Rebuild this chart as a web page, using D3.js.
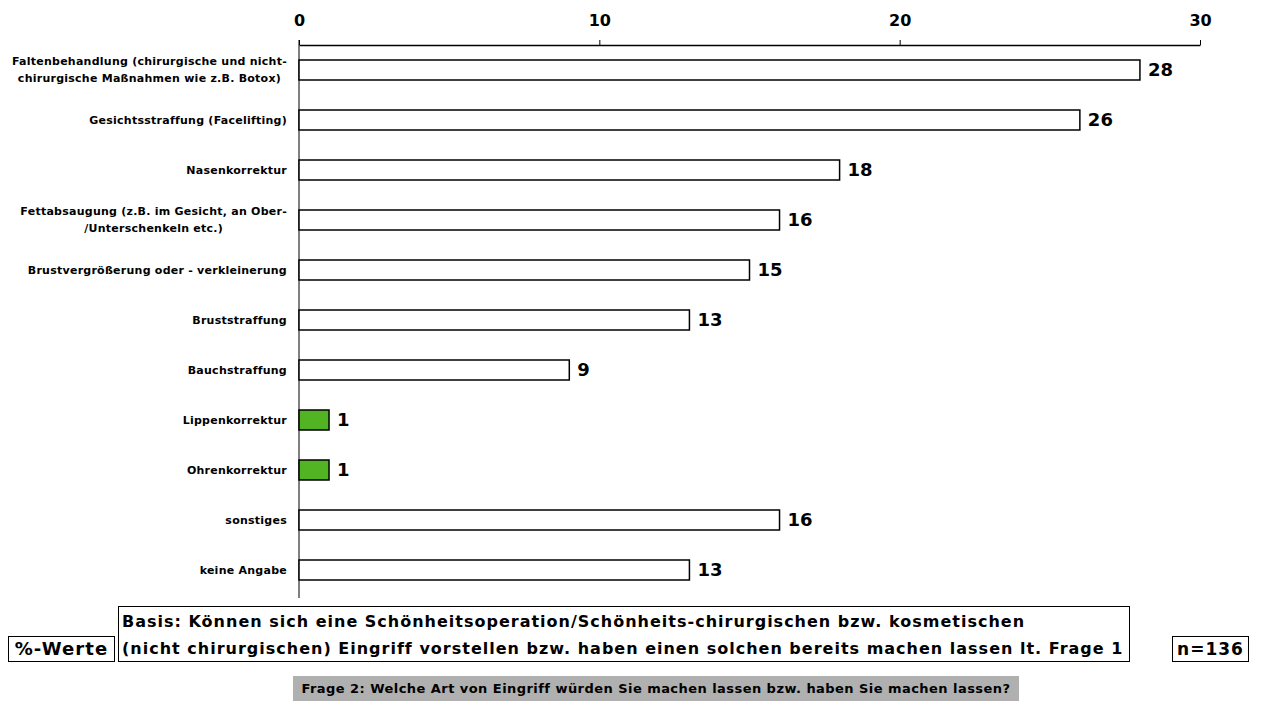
<!DOCTYPE html>
<html>
<head>
<meta charset="utf-8">
<script src="https://cdn.jsdelivr.net/npm/d3@7"></script>
<style>
  body { margin: 0; background: #fff; }
  text { font-family: "DejaVu Sans", Verdana, sans-serif; font-weight: bold; fill: #000; }
</style>
</head>
<body>
<div id="chart"></div>
<script>
// data
const categories = [
  ["Faltenbehandlung (chirurgische und nicht-", "chirurgische Maßnahmen wie z.B. Botox)"],
  ["Gesichtsstraffung (Facelifting)"],
  ["Nasenkorrektur"],
  ["Fettabsaugung (z.B. im Gesicht, an Ober-", "/Unterschenkeln etc.)"],
  ["Brustvergrößerung oder - verkleinerung"],
  ["Bruststraffung"],
  ["Bauchstraffung"],
  ["Lippenkorrektur"],
  ["Ohrenkorrektur"],
  ["sonstiges"],
  ["keine Angabe"]
];
const values = [28, 26, 18, 16, 15, 13, 9, 1, 1, 16, 13];
const highlighted = [false, false, false, false, false, false, false, true, true, false, false];
const xTicks = [0, 10, 20, 30];
const basisLines = [
  "Basis: Können sich eine Schönheitsoperation/Schönheits-chirurgischen bzw. kosmetischen",
  "(nicht chirurgischen) Eingriff vorstellen bzw. haben einen solchen bereits machen lassen lt. Frage 1"
];
const unitLabel = "%-Werte";
const sampleLabel = "n=136";
const questionText = "Frage 2: Welche Art von Eingriff würden Sie machen lassen bzw. haben Sie machen lassen?";

const W = 1261, H = 707;
const svg = d3.select("#chart").append("svg").attr("width", W).attr("height", H);

// === Scales ===
const x = d3.scaleLinear().domain([0, 30]).range([299, 1200]);
const y = d3.scaleBand().domain(d3.range(categories.length)).range([45, 595]).paddingInner(0.6).paddingOuter(0.3);

// === Axes ===
const xAxis = svg.append("g")
  .attr("transform", "translate(0,45)")
  .call(d3.axisTop(x).tickValues(xTicks).tickSize(5).tickPadding(14).tickSizeOuter(0));
xAxis.select(".domain").attr("stroke", "#000").attr("stroke-width", 1.5);
xAxis.selectAll(".tick line").attr("stroke", "#000");
xAxis.selectAll(".tick text").style("font-size", "16px").attr("font-family", null);

svg.append("line")
  .attr("x1", x(0)).attr("x2", x(0))
  .attr("y1", 40).attr("y2", 598)
  .attr("stroke", "#000").attr("stroke-width", 1);

// === Bars ===
svg.selectAll("rect.bar")
  .data(values)
  .join("rect")
  .attr("class", "bar")
  .attr("x", x(0))
  .attr("y", (d, i) => y(i))
  .attr("width", d => x(d) - x(0))
  .attr("height", y.bandwidth())
  .attr("fill", (d, i) => highlighted[i] ? "#52b423" : "#fff")
  .attr("stroke", "#000")
  .attr("stroke-width", 1.5);

svg.selectAll("text.value")
  .data(values)
  .join("text")
  .attr("class", "value")
  .attr("x", d => x(d) + 8)
  .attr("y", (d, i) => y(i) + y.bandwidth() / 2)
  .attr("dy", "0.36em")
  .style("font-size", "18px")
  .text(d => d);

// === Category labels ===
const labelRight = 287;
categories.forEach((lines, i) => {
  const cy = y(i) + y.bandwidth() / 2;
  const g = svg.append("g");
  const texts = lines.map((l, j) => g.append("text")
    .attr("y", cy + (j - (lines.length - 1) / 2) * 17)
    .attr("dy", "0.36em")
    .style("font-size", "11px")
    .style("letter-spacing", "0.25px")
    .text(l));
  const maxW = d3.max(texts, t => t.node().getComputedTextLength());
  texts.forEach(t => t.attr("x", labelRight - maxW / 2).attr("text-anchor", "middle"));
});

// === Footer boxes ===
function box(x0, y0, w, h, fill) {
  svg.append("rect").attr("x", x0).attr("y", y0).attr("width", w).attr("height", h)
    .attr("fill", fill).attr("stroke", fill === "#fff" ? "#000" : "none").attr("stroke-width", 1);
}

box(8.5, 636.5, 106, 25, "#fff");
svg.append("text").attr("x", 61.5).attr("y", 649).attr("dy", "0.36em")
  .attr("text-anchor", "middle").style("font-size", "18px").style("letter-spacing", "1.1px").text(unitLabel);

box(118.5, 606.5, 1011, 55, "#fff");
basisLines.forEach((l, j) => {
  svg.append("text").attr("x", 122).attr("y", 621 + j * 27).attr("dy", "0.36em")
    .style("font-size", "16px").style("letter-spacing", "1px").text(l);
});

box(1172.5, 636.5, 76, 25, "#fff");
svg.append("text").attr("x", 1210.5).attr("y", 649).attr("dy", "0.36em")
  .attr("text-anchor", "middle").style("font-size", "17px").style("letter-spacing", "1px").text(sampleLabel);

box(293, 676, 726, 25, "#b0b0b0");
svg.append("text").attr("x", 656).attr("y", 688.5).attr("dy", "0.36em")
  .attr("text-anchor", "middle").style("font-size", "13px").style("letter-spacing", "0.45px").text(questionText);
</script>
</body>
</html>
